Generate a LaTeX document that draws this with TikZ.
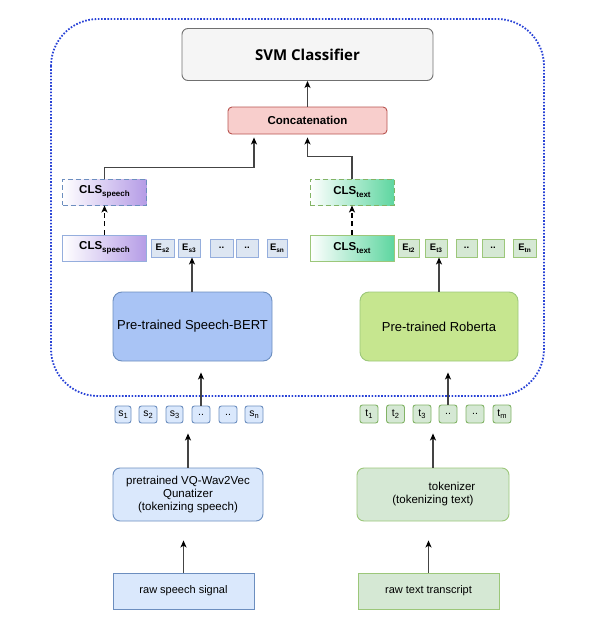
\documentclass[tikz,border=0pt]{standalone}
\usepackage{fontspec}
\setmainfont{Liberation Sans}
\newfontfamily\osfont{Open Sans}
\usetikzlibrary{arrows.meta,calc}
\newcommand\lowsub[2]{\raisebox{-0.45ex}{\fontsize{#1}{#1}\selectfont #2}}
\definecolor{frameblue}{HTML}{2741D6}
\definecolor{svmfill}{HTML}{F5F5F5}
\definecolor{svmdraw}{HTML}{707070}
\definecolor{catfill}{HTML}{F8CECC}
\definecolor{catdraw}{HTML}{B85450}
\definecolor{bluefill}{HTML}{DAE8FC}
\definecolor{bluedraw}{HTML}{6C8EBF}
\definecolor{greenfill}{HTML}{D5E8D4}
\definecolor{greendraw}{HTML}{82B366}
\definecolor{bertfill}{HTML}{A9C4F5}
\definecolor{robfill}{HTML}{C6E68F}
\definecolor{robdraw}{HTML}{9CC77A}
\definecolor{purp}{HTML}{B59CE6}
\definecolor{mint}{HTML}{5ED6A0}
\definecolor{efill}{HTML}{DDE6F2}
\definecolor{edraw}{HTML}{95AEDD}
\definecolor{linegray}{HTML}{444444}
\tikzset{
  bx/.style={inner sep=0pt, line width=0.9pt, align=center},
  arr/.style={draw=linegray, line width=1.1pt, -{Stealth[length=7pt,width=6pt,inset=1.8pt,color=black]}},
  darr/.style={arr, dash pattern=on 5pt off 3.5pt, line width=1.5pt, draw=black},
  stok/.style={bx, rounded corners=2.5pt, fill=bluefill, draw=bluedraw, minimum height=17pt, font=\fontsize{10.5}{10.5}\selectfont},
  ttok/.style={bx, rounded corners=2.5pt, fill=greenfill, draw=greendraw, minimum height=18pt, minimum width=18pt, font=\fontsize{10.5}{10.5}\selectfont},
  etok/.style={bx, fill=efill, draw=edraw, minimum height=18pt, font=\bfseries\fontsize{9.5}{9.5}\selectfont},
  ettok/.style={bx, fill=greenfill, draw=robdraw, minimum height=18pt, font=\bfseries\fontsize{9.5}{9.5}\selectfont},
  clss/.style={bx, left color=white, right color=purp, minimum width=84pt, minimum height=26pt, font=\bfseries\fontsize{11.5}{11.5}\selectfont},
  clst/.style={bx, left color=white, right color=mint, minimum width=84pt, minimum height=26pt, font=\bfseries\fontsize{11.5}{11.5}\selectfont},
}
\begin{document}
\begin{tikzpicture}[x=1pt,y=-1pt]
\useasboundingbox (0,0) rectangle (591,637);
% frame
\draw[frameblue, line width=1.8pt, dash pattern=on 1.6pt off 1.6pt, rounded corners=47pt] (51,19) rectangle (544,396);

\node[bx, rounded corners=6pt, fill=svmfill, draw=svmdraw, minimum width=251pt, minimum height=52pt, font=\osfont\bfseries\fontsize{15}{15}\selectfont] (svm) at (307.5,54.5) {SVM Classifier};
\node[bx, rounded corners=4pt, fill=catfill, draw=catdraw, minimum width=159pt, minimum height=27pt, font=\bfseries\fontsize{11.5}{11.5}\selectfont] (cat) at (307.5,120.5) {Concatenation};

% speech side CLS
\node[clss, draw=bluedraw, dashed, dash pattern=on 5pt off 3pt] (clsSd) at (104.5,192) {CLS\lowsub{8}{speech}};
\node[clss, draw=edraw] (clsS) at (104.5,248) {CLS\lowsub{8}{speech}};
\node[etok, minimum width=23pt] (es2) at (162.5,248) {E\lowsub{6.5}{s2}};
\node[etok, minimum width=22pt] (es3) at (189,248) {E\lowsub{6.5}{s3}};
\node[etok, minimum width=23pt] (es4) at (221.5,248) {..};
\node[etok, minimum width=22pt] (es5) at (247,248) {..};
\node[etok, minimum width=20pt] (esn) at (277,248) {E\lowsub{6.5}{sn}};

% text side CLS
\node[clst, draw=greendraw, dashed, dash pattern=on 5pt off 3pt] (clsTd) at (352,192) {CLS\lowsub{8}{text}};
\node[clst, draw=robdraw] (clsT) at (352,248) {CLS\lowsub{8}{text}};
\node[ettok, minimum width=21pt] (et2) at (408.5,248) {E\lowsub{6.5}{t2}};
\node[ettok, minimum width=22pt] (et3) at (436,248) {E\lowsub{6.5}{t3}};
\node[ettok, minimum width=21pt] (et4) at (466.5,248) {..};
\node[ettok, minimum width=22pt] (et5) at (493,248) {..};
\node[ettok, minimum width=23pt] (etn) at (524.5,248) {E\lowsub{6.5}{tn}};

% encoders
\node[bx, rounded corners=9pt, fill=bertfill, draw=bluedraw, minimum width=159pt, minimum height=69pt, font=\fontsize{13}{13}\selectfont] (bert) at (192.5,326.5) {Pre-trained Speech-BERT};
\node[bx, rounded corners=9pt, fill=robfill, draw=robdraw, minimum width=158pt, minimum height=69pt, font=\fontsize{13}{13}\selectfont] (rob) at (439,326.5) {Pre-trained Roberta};

% speech tokens
\node[stok, minimum width=16pt] (s1) at (123,414.5) {s\lowsub{7.5}{1}};
\node[stok, minimum width=18pt] (s2) at (148,414.5) {s\lowsub{7.5}{2}};
\node[stok, minimum width=17pt] (s3) at (174.5,414.5) {s\lowsub{7.5}{3}};
\node[stok, minimum width=18pt] (s4) at (201,414.5) {..};
\node[stok, minimum width=18pt] (s5) at (228,414.5) {..};
\node[stok, minimum width=18pt] (sn) at (254,414.5) {s\lowsub{7.5}{n}};

% text tokens
\node[ttok] (t1) at (369,414) {t\lowsub{7.5}{1}};
\node[ttok] (t2) at (395.5,414) {t\lowsub{7.5}{2}};
\node[ttok] (t3) at (422,414) {t\lowsub{7.5}{3}};
\node[ttok] (t4) at (448,414) {..};
\node[ttok] (t5) at (475,414) {..};
\node[ttok] (tm) at (502,414) {t\lowsub{7.5}{m}};

% tokenizers
\node[bx, rounded corners=7pt, fill=bluefill, draw=bluedraw, minimum width=150pt, minimum height=53pt, font=\fontsize{11.5}{13}\selectfont] (vq) at (188,494.5) {pretrained VQ-Wav2Vec\\Qunatizer\\(tokenizing speech)};
\node[bx, rounded corners=7pt, fill=greenfill, draw=robdraw, minimum width=152pt, minimum height=53pt, font=\fontsize{11.5}{13}\selectfont] (tok) at (433,494.5) {\hspace*{38pt}tokenizer\\(tokenizing text)};

% raw inputs
\node[bx, fill=bluefill, draw=bluedraw, minimum width=141pt, minimum height=36pt, font=\fontsize{11}{11}\selectfont] (rawS) at (183.5,591) {raw speech signal};
\node[bx, fill=greenfill, draw=robdraw, minimum width=141pt, minimum height=36pt, font=\fontsize{11}{11}\selectfont] (rawT) at (428.5,591) {raw text transcript};

% connectors
\draw[arr] (cat.north) -- (svm.south);
\draw[arr, shorten >=3pt] (clsSd.north) -- ++(0,-11) -| ([xshift=-53.5pt]cat.south);
\draw[arr, shorten >=3pt] (clsTd.north) -- ++(0,-22) -| (cat.south);
\draw[darr] (clsS.north) -- (clsSd.south);
\draw[darr] (clsT.north) -- (clsTd.south);
\draw[arr] ([xshift=3pt]es3.south |- bert.north) -- ([xshift=3pt]es3.south);
\draw[arr] ([xshift=3pt]et3.south |- rob.north) -- ([xshift=3pt]et3.south);
\draw[arr, shorten >=11pt] (s4.north) -- (s4.north |- bert.south);
\draw[arr, shorten >=11pt] (t4.north) -- (t4.north |- rob.south);
\draw[arr, shorten >=10pt] (vq.north) -- (vq.north |- s3.south);
\draw[arr, shorten >=10pt] (tok.north) -- (tok.north |- t3.south);
\draw[arr, shorten >=19pt] (rawS.north) -- (rawS.north |- vq.south);
\draw[arr, shorten >=19pt] (rawT.north) -- (rawT.north |- tok.south);
\end{tikzpicture}
\end{document}
